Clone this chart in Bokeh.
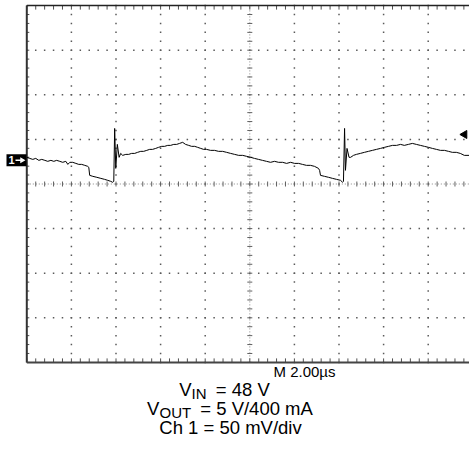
import numpy as np
from bokeh.plotting import figure
from bokeh.models import Range1d
from bokeh.core.properties import value
from bokeh.embed import file_html
from bokeh.resources import INLINE

# ---------------- data ----------------
time_us = [0.00, 0.13, 0.27, 0.40, 0.54, 0.67, 0.81, 0.94, 1.08, 1.21, 1.34, 1.48, 1.61, 1.75, 1.84,
           1.93, 2.06, 2.20, 2.33, 2.46, 2.60, 2.73, 2.78, 2.82, 2.96, 3.14, 3.32, 3.49, 3.63, 3.76,
           3.85, 3.90, 3.94, 3.99, 4.06, 4.14, 4.21, 4.30, 4.44, 4.57, 4.70, 4.84, 4.97,
           5.11, 5.24, 5.38, 5.51, 5.64, 5.78, 5.91, 6.05, 6.18, 6.32, 6.45, 6.59, 6.72, 6.85, 6.99,
           7.12, 7.26, 7.39, 7.53, 7.66, 7.80, 7.93, 8.06, 8.24, 8.42, 8.60, 8.78, 8.96, 9.14, 9.32,
           9.50, 9.68, 9.86, 10.04, 10.21, 10.39, 10.57, 10.75, 10.93, 11.11, 11.29, 11.47, 11.65,
           11.83, 12.01, 12.19, 12.36, 12.54, 12.72, 12.90, 13.08, 13.13, 13.17, 13.35, 13.53, 13.71,
           13.89, 14.07, 14.16, 14.20, 14.25, 14.29, 14.36, 14.45, 14.52, 14.65, 14.78, 14.96,
           15.14, 15.32, 15.50, 15.68, 15.86, 16.04, 16.22, 16.40, 16.58, 16.76, 16.93, 17.11, 17.29,
           17.47, 17.65, 17.83, 18.01, 18.19, 18.37, 18.55, 18.73, 18.91, 19.08, 19.26, 19.44, 19.62,
           19.85]
ripple_mv = [3.4, 2.2, 1.1, 2.2, 0.0, 1.1, 0.0, -1.1, 0.0, -1.1, 0.0, -1.1, -2.2, -1.1, -4.5,
             -2.2, -2.2, -3.4, -4.5, -4.5, -5.6, -6.7, -7.8, -16.8, -17.9, -19.0, -20.2, -21.3, -22.4, -23.5,
             -24.6, -23.5, 35.8, -9.0, 17.9, 3.4, 7.8, 5.6, 6.7, 6.7, 7.8, 7.8, 9.0,
             10.1, 10.1, 11.2, 12.3, 12.3, 13.4, 14.6, 15.7, 15.7, 16.8, 16.8, 17.9, 17.9, 19.0, 20.2,
             17.9, 16.8, 15.7, 15.7, 14.6, 13.4, 12.3, 12.3, 11.2, 11.2, 10.1, 10.1, 9.0, 7.8, 6.7,
             5.6, 5.6, 4.5, 3.4, 2.2, 1.1, 0.0, -1.1, -2.2, -1.1, -2.2, -2.2, -3.4,
             -2.2, -3.4, -3.4, -4.5, -5.6, -5.6, -6.7, -9.0, -11.2, -16.8, -17.9, -19.0, -20.2,
             -21.3, -22.4, -24.6, -23.5, 35.8, -11.2, 13.4, 3.4, 3.4, 5.6, 6.7, 7.8,
             9.0, 10.1, 11.2, 12.3, 13.4, 14.6, 15.7, 16.8, 16.8, 17.9, 16.8, 17.9, 19.0,
             17.9, 16.8, 15.7, 14.6, 13.4, 12.3, 11.2, 11.2, 10.1, 9.0, 9.0, 7.8, 5.6,
             5.6]

US_PER_DIV = 2.0
MV_PER_DIV = 50.0
ch1_ref_div = 0.53          # channel 1 ground marker position (div above centre)
trigger_level_div = 1.11    # trigger level marker (div above centre)
time_label = "M 2.00\u00b5s"
caption = [("V", "IN", "\u00a0= 48 V"),
           ("V", "OUT", "\u00a0= 5 V/400 mA"),
           ("Ch 1 = 50 mV/div", "", "")]

# ---------------- layout helpers ----------------
W, H = 469, 449
X0, Y0 = 26.3, 183.5     # screen left edge / screen centre line (px)
DIV = 44.6               # px per division


def px2x(px):
    return (px - X0) / DIV * US_PER_DIV


def px2y(py):
    return (Y0 - py) / DIV


p = figure(width=W, height=H, output_backend="svg", toolbar_location=None,
           x_range=Range1d(px2x(0), px2x(W)), y_range=Range1d(px2y(H), px2y(0)),
           x_axis_location=None, y_axis_location=None, min_border=0,
           background_fill_color="white", border_fill_color="white")
p.outline_line_color = None
p.grid.visible = False

x_end = 10 * US_PER_DIV
minor_x = np.round(np.arange(0, x_end + 1e-6, US_PER_DIV / 5), 4)
minor_y = np.round(np.arange(-4, 4 + 1e-6, 0.2), 4)

# dotted graticule (dots at every minor division)
dx, dy = [], []
for gy in [-3, -2, -1, 1, 2, 3]:
    dx += list(minor_x)
    dy += [gy] * len(minor_x)
for gx in [2, 4, 6, 8, 12, 14, 16, 18]:
    dx += [gx] * len(minor_y)
    dy += list(minor_y)
p.scatter(dx, dy, marker="square", size=1.5, color="#5a5a5a", line_color=None)

# centre cross lines
cx = 5 * US_PER_DIV
p.segment(x0=[cx, 0], y0=[-4, 0], x1=[cx, x_end], y1=[4, 0],
          line_color="#8a8a8a", line_width=1, line_dash="1 2")
tx = 2.5 / DIV * US_PER_DIV
ty = 2.5 / DIV
p.segment(x0=list(minor_x), y0=[-ty] * len(minor_x), x1=list(minor_x), y1=[ty] * len(minor_x),
          line_color="#606060", line_width=1)
p.segment(x0=[cx - tx] * len(minor_y), y0=list(minor_y), x1=[cx + tx] * len(minor_y), y1=list(minor_y),
          line_color="#606060", line_width=1)

# edge ticks
el = 4 / DIV
p.segment(x0=list(minor_x), y0=[4] * len(minor_x), x1=list(minor_x), y1=[4 - el] * len(minor_x),
          line_color="#505050", line_width=1)
p.segment(x0=list(minor_x), y0=[-4] * len(minor_x), x1=list(minor_x), y1=[-4 + el] * len(minor_x),
          line_color="#505050", line_width=1)
p.segment(x0=[0] * len(minor_y), y0=list(minor_y), x1=[2.5 / DIV * US_PER_DIV] * len(minor_y),
          y1=list(minor_y), line_color="#505050", line_width=1)

# screen borders
p.segment(x0=[0], y0=[-4], x1=[0], y1=[4], line_color="#333333", line_width=2)
p.segment(x0=[0], y0=[4], x1=[x_end], y1=[4], line_color="#222222", line_width=1.5)
p.segment(x0=[0], y0=[-4], x1=[x_end], y1=[-4], line_color="#444444", line_width=2)

# trace
trace_y = [ch1_ref_div + v / MV_PER_DIV for v in ripple_mv]
p.line(time_us, trace_y, line_color="black", line_width=1.0)

# channel 1 marker: black tag with white "1" and arrow
p.rect(x=[px2x(16)], y=[ch1_ref_div], width=20 / DIV * US_PER_DIV, height=12 / DIV,
       fill_color="black", line_color=None)
p.text(x=[px2x(8)], y=[ch1_ref_div], text=["1"], text_color="white",
       text_font=value("Liberation Sans"), text_font_size=value("11px"), text_font_style="bold",
       text_baseline="middle", text_align="left")
p.segment(x0=[px2x(15)], y0=[ch1_ref_div], x1=[px2x(21)], y1=[ch1_ref_div],
          line_color="white", line_width=1.5)
p.scatter(x=[px2x(21.5)], y=[ch1_ref_div], marker="triangle", angle=-np.pi / 2,
          size=6, color="white", line_color=None)

# trigger level marker
p.scatter(x=[px2x(464)], y=[trigger_level_div], marker="triangle", angle=np.pi / 2,
          size=8, color="black")

# time base label
p.text(x=[px2x(273)], y=[px2y(371)], text=[time_label], text_color="black",
       text_font=value("Liberation Sans"), text_font_size=value("15px"),
       text_baseline="alphabetic", text_align="left")

# caption with subscripts
AW = {"V": .667, "I": .278, "N": .722, "O": .778, "U": .722, "T": .611, " ": .278, "\u00a0": .278,
      "=": .584, "0": .556, "1": .556, "4": .556, "5": .556, "8": .556, "/": .278, "m": .833,
      "A": .667, "C": .722, "h": .556, "d": .556, "i": .222, "v": .5}


def tw(s, f):
    return sum(AW.get(c, .556) for c in s) * f


F, FS, GAP = 18.5, 15, 4
centers = [224, 229.5, 230]
baselines = [389, 408, 427]
for (a, sub, b), c, bl in zip(caption, centers, baselines):
    total = tw(a, F) + (tw(sub, FS) + GAP if sub else 0) + tw(b, F)
    x = c - total / 2
    p.text(x=[px2x(x)], y=[px2y(bl)], text=[a], text_font=value("Liberation Sans"),
           text_font_size=value(f"{F}px"), text_baseline="alphabetic", text_align="left")
    x += tw(a, F)
    if sub:
        p.text(x=[px2x(x)], y=[px2y(bl + 4)], text=[sub], text_font=value("Liberation Sans"),
               text_font_size=value(f"{FS}px"), text_baseline="alphabetic", text_align="left")
        x += tw(sub, FS) + GAP
    if b:
        p.text(x=[px2x(x)], y=[px2y(bl)], text=[b], text_font=value("Liberation Sans"),
               text_font_size=value(f"{F}px"), text_baseline="alphabetic", text_align="left")

open("out.html", "w").write(file_html(p, INLINE))
